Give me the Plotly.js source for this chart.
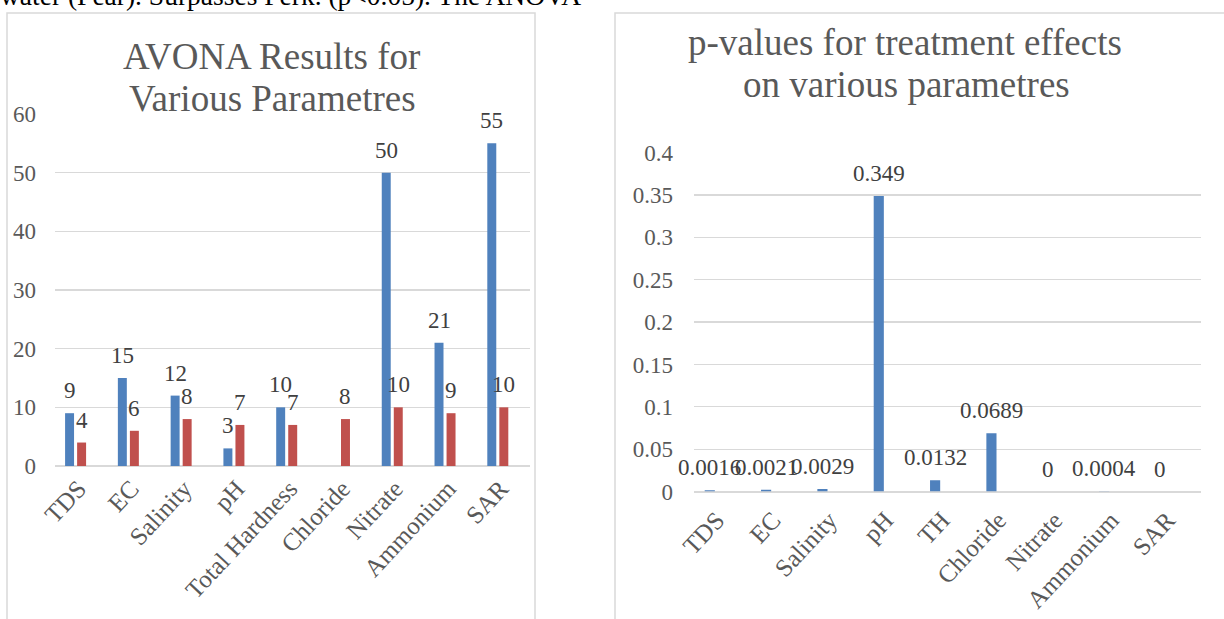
<!DOCTYPE html>
<html>
<head>
<meta charset="utf-8">
<script src="https://cdn.plot.ly/plotly-3.0.1.min.js"></script>
<style>
  html, body { margin: 0; padding: 0; background: #ffffff; }
  #chart { width: 1224px; height: 619px; }
</style>
</head>
<body>
<div id="chart"></div>
<script>
// ---- Data ----
const anovaCategories = ['TDS', 'EC', 'Salinity', 'pH', 'Total Hardness', 'Chloride', 'Nitrate', 'Ammonium', 'SAR'];
const anovaBlue = [9, 15, 12, 3, 10, null, 50, 21, 55];
const anovaRed = [4, 6, 8, 7, 7, 8, 10, 9, 10];

const pCategories = ['TDS', 'EC', 'Salinity', 'pH', 'TH', 'Chloride', 'Nitrate', 'Ammonium', 'SAR'];
const pValues = [0.0016, 0.0021, 0.0029, 0.349, 0.0132, 0.0689, 0, 0.0004, 0];

const leftTitleLines = ['AVONA Results for', 'Various Parametres'];
const rightTitleLines = ['p-values for treatment effects', 'on various parametres'];
const headerText = 'water (Pear). Surpasses Perk. (p<0.05). The ANOVA';

// ---- Styling ----
const FONT = 'Liberation Serif';
const BLUE = '#4F81BD';
const RED = '#C0504D';
const GRID = '#D9D9D9';
const TICK = '#595959';
const LABEL = '#404040';
const W = 1224, H = 619;
const px = v => v / W;
const py = v => 1 - v / H;

const traces = [
  {
    type: 'bar', x: anovaCategories, y: anovaBlue, xaxis: 'x', yaxis: 'y',
    marker: { color: BLUE }, width: 0.17, offset: -0.199, hoverinfo: 'x+y', showlegend: false
  },
  {
    type: 'bar', x: anovaCategories, y: anovaRed, xaxis: 'x', yaxis: 'y',
    marker: { color: RED }, width: 0.17, offset: 0.029, hoverinfo: 'x+y', showlegend: false
  },
  {
    type: 'bar', x: pCategories, y: pValues, xaxis: 'x2', yaxis: 'y2',
    marker: { color: BLUE }, width: 0.18, hoverinfo: 'x+y', showlegend: false
  }
];

const labelFont = { family: FONT, size: 23, color: LABEL };
const annotations = [];
anovaCategories.forEach((c, i) => {
  if (anovaBlue[i] !== null) {
    annotations.push({ xref: 'x', yref: 'y', x: c, y: anovaBlue[i], text: String(anovaBlue[i]),
      xshift: -6, yshift: 8, yanchor: 'bottom', showarrow: false, font: labelFont });
  }
  annotations.push({ xref: 'x', yref: 'y', x: c, y: anovaRed[i], text: String(anovaRed[i]),
    xshift: 6, yshift: 8, yanchor: 'bottom', showarrow: false, font: labelFont });
});
pCategories.forEach((c, i) => {
  annotations.push({ xref: 'x2', yref: 'y2', x: c, y: pValues[i], text: String(pValues[i]),
    yshift: 8, yanchor: 'bottom', showarrow: false, font: labelFont });
});

const titleFont = { family: FONT, size: 37, color: TICK };
annotations.push({ xref: 'paper', yref: 'paper', x: px(271), y: py(56), text: leftTitleLines[0],
  xanchor: 'center', yanchor: 'middle', showarrow: false, font: titleFont });
annotations.push({ xref: 'paper', yref: 'paper', x: px(272), y: py(98), text: leftTitleLines[1],
  xanchor: 'center', yanchor: 'middle', showarrow: false, font: titleFont });
annotations.push({ xref: 'paper', yref: 'paper', x: px(905), y: py(42), text: rightTitleLines[0],
  xanchor: 'center', yanchor: 'middle', showarrow: false, font: titleFont });
annotations.push({ xref: 'paper', yref: 'paper', x: px(906), y: py(84), text: rightTitleLines[1],
  xanchor: 'center', yanchor: 'middle', showarrow: false, font: titleFont });
annotations.push({ xref: 'paper', yref: 'paper', x: px(-2), y: 1, text: headerText,
  xanchor: 'left', yanchor: 'bottom', yshift: -13, showarrow: false,
  font: { family: FONT, size: 27.5, color: '#000000' } });

const tickFont = { family: FONT, size: 23, color: TICK };
const xTickFont = { family: FONT, size: 25, color: TICK };

const layout = {
  width: W, height: H,
  margin: { l: 0, r: 0, t: 0, b: 0, pad: 0 },
  paper_bgcolor: '#ffffff', plot_bgcolor: 'rgba(0,0,0,0)',
  font: { family: FONT, color: TICK },
  barmode: 'overlay',
  showlegend: false,
  xaxis: {
    domain: [px(55), px(530)], anchor: 'y', type: 'category', range: [-0.39, 8.61],
    tickangle: -47, tickfont: xTickFont, showgrid: false, showline: false, ticks: '',
    zeroline: false, fixedrange: true, ticklabelshift: 3, ticklabelstandoff: 2
  },
  yaxis: {
    domain: [py(466), py(114)], anchor: 'x', range: [0, 60], dtick: 10,
    tickfont: tickFont, gridcolor: GRID, gridwidth: 1.3, zeroline: true,
    zerolinecolor: GRID, zerolinewidth: 2, showline: false, ticks: '',
    ticklabelstandoff: 18, fixedrange: true
  },
  xaxis2: {
    domain: [px(694), px(1201)], anchor: 'y2', type: 'category', range: [-0.28, 8.72],
    tickangle: -47, tickfont: xTickFont, showgrid: false, showline: false, ticks: '',
    zeroline: false, fixedrange: true, ticklabelshift: 7, ticklabelstandoff: 8
  },
  yaxis2: {
    domain: [py(491.5), py(152.7)], anchor: 'x2', range: [0, 0.4], dtick: 0.05,
    tickfont: tickFont, gridcolor: GRID, gridwidth: 1.3, zeroline: true,
    zerolinecolor: GRID, zerolinewidth: 2, showline: false, ticks: '',
    ticklabelstandoff: 20, fixedrange: true
  },
  shapes: [
    { type: 'rect', xref: 'paper', yref: 'paper', x0: px(7), x1: px(535), y0: -0.2, y1: py(13),
      line: { color: GRID, width: 1.5 }, fillcolor: 'rgba(0,0,0,0)', layer: 'below' },
    { type: 'rect', xref: 'paper', yref: 'paper', x0: px(615), x1: 1.2, y0: -0.2, y1: py(13),
      line: { color: GRID, width: 1.5 }, fillcolor: 'rgba(0,0,0,0)', layer: 'below' }
  ],
  annotations: annotations
};

Plotly.newPlot('chart', traces, layout, { displayModeBar: false, staticPlot: true });
</script>
</body>
</html>
